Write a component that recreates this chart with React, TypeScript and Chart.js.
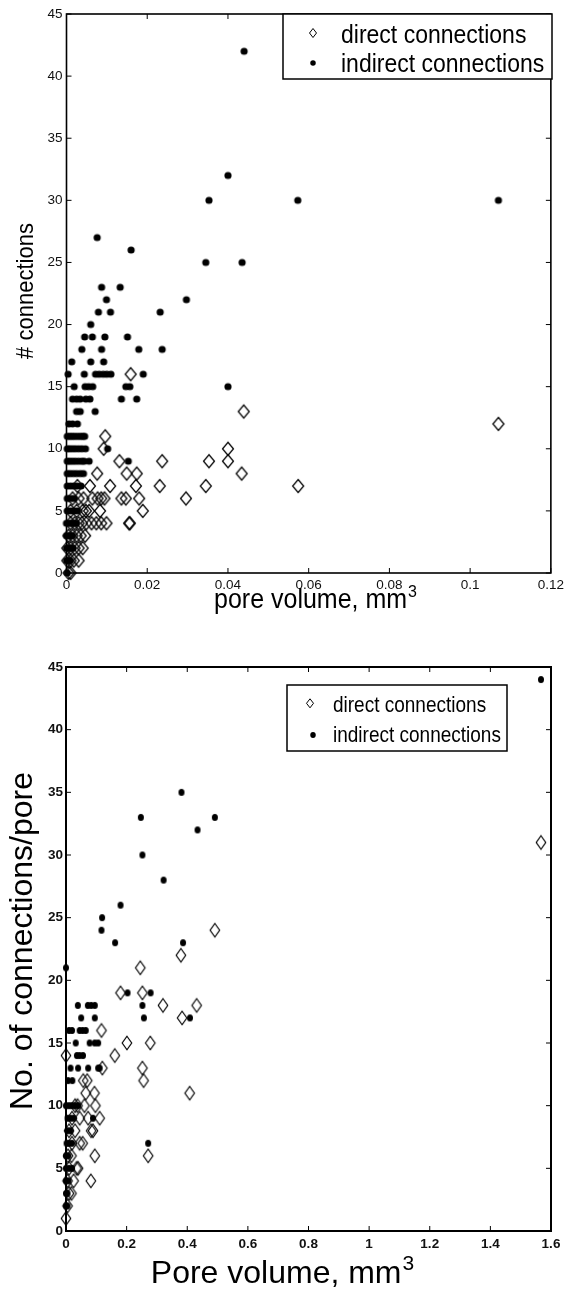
import React, { useEffect, useRef } from "react";
import { Chart, registerables } from "chart.js";

Chart.register(...registerables);

type Pt = [number, number];

// ---------- text ----------
const LABEL_DIRECT = "direct connections";
const LABEL_INDIRECT = "indirect connections";
const TOP_X_TITLE = "pore volume, mm";
const TOP_Y_TITLE = "# connections";
const BOTTOM_X_TITLE = "Pore volume, mm";
const BOTTOM_Y_TITLE = "No. of connections/pore";
const TITLE_SUP = "3";

// ---------- ticks ----------
const topXTicks = [0, 0.02, 0.04, 0.06, 0.08, 0.1, 0.12];
const bottomXTicks = [0, 0.2, 0.4, 0.6, 0.8, 1, 1.2, 1.4, 1.6];
const yTicks = [0, 5, 10, 15, 20, 25, 30, 35, 40, 45];

// ---------- data: top panel (pore volume mm^3, # connections) ----------
const topDirect: Pt[] = [
  [0.107, 12], [0.0574, 7], [0.0439, 13], [0.04, 10], [0.04, 9], [0.0353, 9], [0.0434, 8],
  [0.0345, 7], [0.0296, 6], [0.0237, 9], [0.0231, 7], [0.0159, 16], [0.0096, 11], [0.0092, 10],
  [0.0131, 9], [0.0149, 8], [0.0174, 8], [0.0076, 8], [0.0172, 7], [0.0108, 7], [0.0058, 7],
  [0.0027, 7], [0.018, 6], [0.0147, 6], [0.0136, 6], [0.0094, 6], [0.0086, 6], [0.0077, 6],
  [0.0189, 5], [0.0155, 4], [0.0157, 4], [0.0099, 4], [0.0086, 4], [0.0074, 4], [0.0062, 4],
  [0.0049, 4], [0.0056, 5], [0.0083, 5], [0.0046, 3],
  [0.0005, 0], [0.001, 0], [0.0002, 1], [0.001, 1], [0.0018, 1], [0.003, 1], [0.0002, 2],
  [0.001, 2], [0.002, 2], [0.003, 2], [0.004, 2], [0.0005, 3], [0.0015, 3], [0.0025, 3],
  [0.0035, 3], [0.001, 4], [0.002, 4], [0.003, 4], [0.0038, 4], [0.001, 5], [0.0025, 5],
  [0.004, 5], [0.0048, 5], [0.0015, 6], [0.003, 6], [0.0042, 6], [0.0064, 6],
];

const topIndirect: Pt[] = [
  [0.044, 42], [0.04, 32], [0.0353, 30], [0.0573, 30], [0.107, 30], [0.0076, 27], [0.016, 26],
  [0.0345, 25], [0.0435, 25], [0.0087, 23], [0.0133, 23], [0.0099, 22], [0.0297, 22],
  [0.0079, 21], [0.0109, 21], [0.0232, 21], [0.006, 20], [0.0045, 19], [0.0064, 19],
  [0.0095, 19], [0.0151, 19], [0.0038, 18], [0.0087, 18], [0.0179, 18], [0.0237, 18],
  [0.0013, 17], [0.006, 17], [0.0092, 17],
  [0.0004, 16], [0.0044, 16], [0.0072, 16], [0.0081, 16], [0.0091, 16], [0.01, 16], [0.011, 16], [0.019, 16],
  [0.0019, 15], [0.0046, 15], [0.0055, 15], [0.0065, 15], [0.0147, 15], [0.0157, 15], [0.04, 15],
  [0.0015, 14], [0.0025, 14], [0.0034, 14], [0.0048, 14], [0.0058, 14], [0.0136, 14], [0.0174, 14],
  [0.0025, 13], [0.0034, 13], [0.0071, 13],
  [0.0006, 12], [0.0015, 12], [0.0027, 12],
  [0.0002, 11], [0.0008, 11], [0.0014, 11], [0.002, 11], [0.0027, 11], [0.0034, 11], [0.004, 11], [0.0045, 11],
  [0.0002, 10], [0.0008, 10], [0.0015, 10], [0.0022, 10], [0.003, 10], [0.0038, 10], [0.0047, 10], [0.0102, 10],
  [0.0002, 9], [0.0008, 9], [0.0015, 9], [0.0022, 9], [0.003, 9], [0.0038, 9], [0.0044, 9], [0.0056, 9], [0.0153, 9],
  [0.0002, 8], [0.0009, 8], [0.0017, 8], [0.0025, 8], [0.0034, 8], [0.0042, 8],
  [0.0002, 7], [0.001, 7], [0.0018, 7], [0.0026, 7], [0.0036, 7],
  [0.0002, 6], [0.001, 6], [0.0019, 6],
  [0.0002, 5], [0.001, 5], [0.0018, 5], [0.0026, 5],
  [0, 4], [0.0006, 4], [0.0012, 4], [0.0018, 4], [0.0024, 4],
  [0, 3], [0.0005, 3], [0.001, 3], [0.0015, 3],
  [0, 2], [0.0005, 2], [0.001, 2], [0.0016, 2],
  [0, 1], [0.0004, 1], [0.0009, 1],
  [0.0002, 0],
];

// ---------- data: bottom panel (pore volume mm^3, connections / pore) ----------
const bottomDirect: Pt[] = [
  [1.567, 31], [0.491, 24], [0.379, 22], [0.245, 21], [0.18, 19], [0.252, 19], [0.32, 18],
  [0.431, 18], [0.383, 17], [0.117, 16], [0.201, 15], [0.278, 15], [0.161, 14], [0, 14],
  [0.252, 13], [0.12, 13], [0.256, 12], [0.057, 12], [0.07, 12], [0.408, 11], [0.065, 11],
  [0.094, 11], [0.038, 10], [0.061, 10], [0.097, 10], [0.045, 9], [0.073, 9], [0.111, 9],
  [0.03, 8], [0.083, 8], [0.089, 8], [0.045, 7], [0.055, 7], [0.271, 6], [0.095, 6],
  [0.018, 6], [0.007, 6], [0.035, 5], [0.04, 5], [0.082, 4], [0.025, 4], [0.018, 3],
  [0.005, 2], [0, 1], [0.01, 3], [0.005, 4], [0.01, 5], [0.02, 7], [0.01, 8], [0.02, 9], [0.03, 10],
];

const bottomIndirect: Pt[] = [
  [1.567, 44], [0.381, 35], [0.247, 33], [0.491, 33], [0.434, 32], [0.252, 30], [0.322, 28],
  [0.18, 26], [0.119, 25], [0.117, 24], [0.162, 23], [0.386, 23], [0, 21], [0.203, 19],
  [0.279, 19], [0.252, 18], [0.257, 17], [0.409, 17], [0.271, 7],
  [0.039, 18], [0.072, 18], [0.083, 18], [0.095, 18],
  [0.05, 17], [0.095, 17],
  [0.01, 16], [0.02, 16], [0.045, 16], [0.055, 16], [0.065, 16],
  [0.032, 15], [0.078, 15], [0.095, 15], [0.106, 15],
  [0.036, 14], [0.045, 14], [0.056, 14],
  [0.015, 13], [0.04, 13], [0.073, 13], [0.106, 13], [0.111, 13],
  [0.007, 12], [0.021, 12],
  [0, 10], [0.01, 10], [0.02, 10], [0.03, 10], [0.04, 10],
  [0.005, 9], [0.015, 9], [0.025, 9], [0.089, 9],
  [0.005, 8], [0.015, 8],
  [0.002, 7], [0.01, 7], [0.02, 7],
  [0, 6], [0.008, 6],
  [0, 5], [0.01, 5], [0.02, 5],
  [0, 4], [0.008, 4],
  [0, 3], [0.005, 3],
  [0, 2], [0.005, 2],
];

const FONT = "'Liberation Sans', Arial, Helvetica, sans-serif";
const NARROW = "'Liberation Sans Narrow', 'Arial Narrow', 'Liberation Sans', Arial, sans-serif";

// ---------- marker images ----------
function diamondImg(w: number, h: number, lw: number): HTMLCanvasElement {
  const c = document.createElement("canvas");
  c.width = Math.ceil(w + lw * 2 + 2);
  c.height = Math.ceil(h + lw * 2 + 2);
  const ctx = c.getContext("2d")!;
  const cx = c.width / 2;
  const cy = c.height / 2;
  ctx.beginPath();
  ctx.moveTo(cx, cy - h / 2);
  ctx.lineTo(cx + w / 2, cy);
  ctx.lineTo(cx, cy + h / 2);
  ctx.lineTo(cx - w / 2, cy);
  ctx.closePath();
  ctx.strokeStyle = "#000";
  ctx.lineWidth = lw;
  ctx.stroke();
  return c;
}

function dotImg(w: number, h: number): HTMLCanvasElement {
  const c = document.createElement("canvas");
  c.width = Math.ceil(w + 2);
  c.height = Math.ceil(h + 2);
  const ctx = c.getContext("2d")!;
  ctx.beginPath();
  ctx.ellipse(c.width / 2, c.height / 2, w / 2, h / 2, 0, 0, Math.PI * 2);
  ctx.fillStyle = "#000";
  ctx.fill();
  return c;
}

// ---------- drawing helpers ----------
function scaledText(ctx: CanvasRenderingContext2D, text: string, x: number, y: number, font: string, sx: number, sy: number) {
  ctx.save();
  ctx.translate(x, y);
  ctx.scale(sx, sy);
  ctx.font = font;
  ctx.textAlign = "left";
  ctx.textBaseline = "alphabetic";
  ctx.fillText(text, 0, 0);
  ctx.restore();
}

const framePlugin = {
  id: "matlabFrame",
  afterDraw(chart: any, _args: any, o: any) {
    const { ctx, chartArea: a, scales } = chart;
    ctx.save();
    ctx.strokeStyle = "#000";
    ctx.fillStyle = "#000";

    // ticks (inward, on all four sides)
    ctx.lineWidth = o.tickWidth;
    ctx.beginPath();
    for (const t of scales.x.ticks) {
      const px = scales.x.getPixelForValue(t.value);
      ctx.moveTo(px, a.bottom);
      ctx.lineTo(px, a.bottom - o.tickLen);
      ctx.moveTo(px, a.top);
      ctx.lineTo(px, a.top + o.tickLen);
    }
    for (const t of scales.y.ticks) {
      const py = scales.y.getPixelForValue(t.value);
      ctx.moveTo(a.left, py);
      ctx.lineTo(a.left + o.tickLen, py);
      ctx.moveTo(a.right, py);
      ctx.lineTo(a.right - o.tickLen, py);
    }
    ctx.stroke();

    // box
    ctx.lineWidth = o.lineWidth;
    ctx.strokeRect(a.left, a.top, a.right - a.left, a.bottom - a.top);

    // legend
    const L = o.legend;
    ctx.fillStyle = "#fff";
    ctx.fillRect(L.left, L.top, L.right - L.left, L.bottom - L.top);
    ctx.lineWidth = L.lineWidth;
    ctx.strokeRect(L.left, L.top, L.right - L.left, L.bottom - L.top);
    ctx.fillStyle = "#000";
    const dx = L.diamondX, dy = L.diamondY;
    ctx.lineWidth = 1;
    ctx.beginPath();
    ctx.moveTo(dx, dy - L.dh / 2);
    ctx.lineTo(dx + L.dw / 2, dy);
    ctx.lineTo(dx, dy + L.dh / 2);
    ctx.lineTo(dx - L.dw / 2, dy);
    ctx.closePath();
    ctx.stroke();
    ctx.beginPath();
    ctx.ellipse(L.dotX, L.dotY, L.dotW / 2, L.dotH / 2, 0, 0, Math.PI * 2);
    ctx.fill();
    const labels = chart.data.datasets.map((d: any) => d.label);
    const font = `${L.fontSize}px ${L.family}`;
    scaledText(ctx, labels[1], L.textX, L.base1, font, L.sx, L.sy);
    scaledText(ctx, labels[0], L.textX, L.base2, font, L.sx, L.sy);

    // x title with superscript
    const X = o.xTitle;
    ctx.font = `${X.size}px ${FONT}`;
    const wMain = ctx.measureText(X.text).width * X.sx;
    ctx.font = `${X.supSize}px ${FONT}`;
    const wSup = ctx.measureText(X.sup).width * X.sx;
    const start = X.cx - (wMain + wSup) / 2;
    scaledText(ctx, X.text, start, X.baseline, `${X.size}px ${FONT}`, X.sx, X.sy);
    scaledText(ctx, X.sup, start + wMain + X.supGap, X.baseline - X.supRaise, `${X.supSize}px ${FONT}`, X.sx, X.sy);

    // y title (rotated)
    const Y = o.yTitle;
    ctx.save();
    ctx.translate(Y.baselineX, Y.cy);
    ctx.rotate(-Math.PI / 2);
    ctx.scale(Y.sAlong, Y.sCross);
    ctx.font = `${Y.size}px ${FONT}`;
    ctx.textAlign = "center";
    ctx.textBaseline = "alphabetic";
    ctx.fillText(Y.text, 0, 0);
    ctx.restore();

    ctx.restore();
  },
};

const fmt = (v: any) => String(Math.round(Number(v) * 10000) / 10000);

function buildConfig(p: any): any {
  const toXY = (arr: Pt[]) => arr.map(([x, y]) => ({ x, y }));
  return {
    type: "scatter",
    data: {
      datasets: [
        {
          label: LABEL_INDIRECT,
          data: toXY(p.indirect),
          pointStyle: dotImg(p.dotW, p.dotH),
          pointRadius: 3,
          order: 1,
          clip: false,
        },
        {
          label: LABEL_DIRECT,
          data: toXY(p.direct),
          pointStyle: diamondImg(p.diaW, p.diaH, p.diaLw),
          pointRadius: 5,
          order: 2,
          clip: false,
        },
      ],
    },
    plugins: [framePlugin],
    options: {
      animation: false,
      responsive: false,
      maintainAspectRatio: false,
      events: [],
      layout: { padding: { top: p.padTop, right: p.padRight, left: 0, bottom: 0 } },
      plugins: {
        legend: { display: false },
        tooltip: { enabled: false },
        matlabFrame: p.frame,
      },
      scales: {
        x: {
          type: "linear",
          min: 0,
          max: p.xTicks[p.xTicks.length - 1],
          afterBuildTicks: (s: any) => {
            s.ticks = p.xTicks.map((v: number) => ({ value: v }));
          },
          afterFit: (s: any) => {
            s.height = p.xHeight;
          },
          grid: { display: false, drawTicks: false },
          border: { display: false },
          ticks: { font: p.tickFont, color: "#111", padding: p.xTickPad, maxRotation: 0, autoSkip: false, callback: fmt },
        },
        y: {
          type: "linear",
          min: 0,
          max: 45,
          afterBuildTicks: (s: any) => {
            s.ticks = yTicks.map((v) => ({ value: v }));
          },
          afterFit: (s: any) => {
            s.width = p.yWidth;
          },
          grid: { display: false, drawTicks: false },
          border: { display: false },
          ticks: { font: p.tickFont, color: "#111", padding: p.yTickPad, autoSkip: false, callback: fmt },
        },
      },
    },
  };
}

const topPanel = {
  height: 630,
  direct: topDirect,
  indirect: topIndirect,
  xTicks: topXTicks,
  padTop: 14,
  padRight: 16,
  yWidth: 66.5,
  xHeight: 57,
  xTickPad: 4,
  yTickPad: 4,
  tickFont: { family: FONT, size: 13.5 },
  diaW: 11,
  diaH: 13,
  diaLw: 1.25,
  dotW: 7.2,
  dotH: 7.2,
  frame: {
    lineWidth: 1.6,
    tickWidth: 1,
    tickLen: 5,
    legend: {
      left: 283, top: 14, right: 552, bottom: 79, lineWidth: 1.5,
      diamondX: 313, diamondY: 33, dw: 7, dh: 9,
      dotX: 313, dotY: 63, dotW: 5.5, dotH: 5.5,
      textX: 341, base1: 43, base2: 71.5,
      fontSize: 23, family: FONT, sx: 1, sy: 1.12,
    },
    xTitle: { text: TOP_X_TITLE, sup: TITLE_SUP, size: 25, supSize: 16, supGap: 1, supRaise: 11, cx: 315, baseline: 608, sx: 1, sy: 1.08 },
    yTitle: { text: TOP_Y_TITLE, size: 22, baselineX: 33, cy: 291, sAlong: 1, sCross: 1.12 },
  },
};

const bottomPanel = {
  height: 665,
  direct: bottomDirect,
  indirect: bottomIndirect,
  xTicks: bottomXTicks,
  padTop: 37,
  padRight: 17,
  yWidth: 66,
  xHeight: 64,
  xTickPad: 5,
  yTickPad: 3,
  tickFont: { family: NARROW, size: 13.5, weight: "bold" },
  diaW: 9.5,
  diaH: 13.5,
  diaLw: 1.2,
  dotW: 6,
  dotH: 7,
  frame: {
    lineWidth: 2,
    tickWidth: 1,
    tickLen: 5,
    legend: {
      left: 287, top: 55, right: 507, bottom: 121, lineWidth: 1.5,
      diamondX: 310, diamondY: 73.3, dw: 7, dh: 9,
      dotX: 313, dotY: 105, dotW: 5.5, dotH: 6,
      textX: 333, base1: 82, base2: 111.7,
      fontSize: 19, family: FONT, sx: 1, sy: 1.2,
    },
    xTitle: { text: BOTTOM_X_TITLE, sup: TITLE_SUP, size: 32, supSize: 21, supGap: 1, supRaise: 13, cx: 282, baseline: 653, sx: 1, sy: 1 },
    yTitle: { text: BOTTOM_Y_TITLE, size: 32, baselineX: 32, cy: 311, sAlong: 1, sCross: 1 },
  },
};

function Panel({ p, top }: { p: any; top: number }) {
  const ref = useRef<HTMLCanvasElement | null>(null);
  useEffect(() => {
    if (!ref.current) return;
    const chart = new Chart(ref.current, buildConfig(p));
    return () => chart.destroy();
  }, [p]);
  return (
    <div style={{ position: "absolute", left: 0, top, width: 568, height: p.height }}>
      <canvas ref={ref} width={568} height={p.height} style={{ display: "block", width: 568, height: p.height }} />
    </div>
  );
}

export default function App() {
  return (
    <div style={{ position: "absolute", left: 0, top: 0, width: 568, height: 1295, background: "#fff" }}>
      <Panel p={topPanel} top={0} />
      <Panel p={bottomPanel} top={630} />
    </div>
  );
}
